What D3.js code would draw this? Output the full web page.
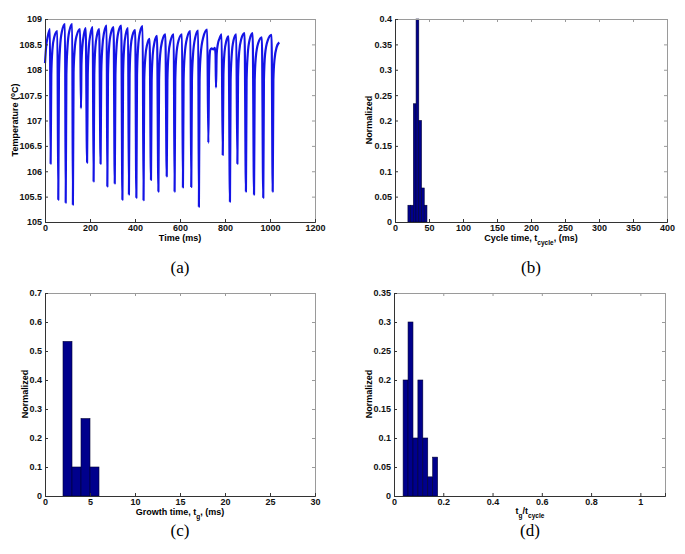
<!DOCTYPE html>
<html>
<head>
<meta charset="utf-8">
<script src="https://cdn.jsdelivr.net/npm/d3@7"></script>
<style>
  body { margin: 0; background: #fff; }
</style>
</head>
<body>
<div id="chart"></div>
<script>
// (a) temperature trace: troughs, knees and peaks of each cycle
var tempTime = [0, 5, 12, 22, 25, 28, 33, 41, 55, 59, 62, 67, 75, 89, 92, 95, 100, 108, 121,
  124, 127, 132, 140, 156, 160, 162, 167, 173, 181, 187, 190, 195, 202, 212,
  216, 219, 224, 231, 241, 247, 250, 255, 262, 274, 277, 280, 285, 293, 305,
  310, 313, 318, 326, 339, 344, 347, 352, 359, 369, 373, 376, 381, 389, 401,
  406, 409, 414, 422, 434, 438, 441, 446, 454, 465, 471, 474, 479, 487, 498,
  504, 507, 512, 521, 535, 541, 544, 549, 558, 572, 576, 579, 584, 594, 609,
  613, 616, 621, 631, 646, 650, 653, 658, 667, 681, 684, 687, 692, 703, 721,
  726, 729, 734, 740, 748, 755, 758, 760, 763, 768, 776, 785,
  790, 793, 798, 806, 816, 822, 825, 830, 838, 850, 855, 858, 863, 872, 887,
  893, 896, 901, 910, 923, 929, 932, 937, 948, 964, 970, 973, 978, 990, 1007,
  1012, 1015, 1020, 1030, 1041];
var tempC = [108.13, 108.45, 108.65, 108.8, 106.15, 107.9, 108.4, 108.64, 108.76,
  105.44, 107.9, 108.45, 108.75, 108.9, 105.38, 107.9, 108.45, 108.76, 108.9,
  105.34, 107.95, 108.4, 108.66, 108.8, 107.24, 108.1, 108.5, 108.7, 108.82,
  106.17, 107.9, 108.45, 108.7, 108.84, 105.8, 107.9, 108.45, 108.68, 108.8,
  106.15, 107.95, 108.45, 108.72, 108.87, 105.7, 107.9, 108.45, 108.72, 108.84,
  105.76, 107.9, 108.45, 108.74, 108.87, 105.44, 107.9, 108.45, 108.7, 108.82,
  105.54, 107.9, 108.45, 108.68, 108.78, 105.48, 107.9, 108.45, 108.74, 108.86,
  105.43, 107.8, 108.25, 108.5, 108.61, 105.83, 107.8, 108.3, 108.55, 108.67,
  105.6, 107.8, 108.3, 108.57, 108.7, 105.9, 107.8, 108.3, 108.57, 108.7,
  105.6, 107.8, 108.3, 108.58, 108.7, 105.68, 107.8, 108.3, 108.62, 108.76,
  105.69, 107.8, 108.3, 108.62, 108.77, 105.3, 107.8, 108.3, 108.63, 108.79,
  106.56, 107.9, 108.38, 108.42, 108.4, 108.43, 108.3, 107.65, 108.3, 108.5, 108.62, 108.7,
  106.32, 107.9, 108.35, 108.57, 108.66, 105.4, 107.8, 108.3, 108.58, 108.7,
  106.15, 107.85, 108.35, 108.6, 108.72, 105.6, 107.8, 108.3, 108.6, 108.72,
  105.54, 107.8, 108.25, 108.53, 108.64, 105.48, 107.8, 108.3, 108.58, 108.69,
  105.6, 107.8, 108.2, 108.45, 108.54];

// (b) cycle time histogram
var cycleEdges = [19, 23, 27, 31, 35, 39, 43, 47];
var cycleFreq = [0.033, 0.033, 0.233, 0.4, 0.2, 0.067, 0.033];

// (c) growth time histogram
var growthEdges = [2, 3, 4, 5, 6];
var growthFreq = [0.533, 0.1, 0.267, 0.1];

// (d) ratio histogram
var ratioEdges = [0.037, 0.057, 0.077, 0.097, 0.117, 0.137, 0.157, 0.177];
var ratioFreq = [0.2, 0.3, 0.1, 0.2, 0.1, 0.033, 0.067];

// tick values
var ticksA_x = [0, 200, 400, 600, 800, 1000, 1200];
var ticksA_y = [105, 105.5, 106, 106.5, 107, 107.5, 108, 108.5, 109];
var ticksB_x = [0, 50, 100, 150, 200, 250, 300, 350, 400];
var ticksB_y = [0, 0.05, 0.1, 0.15, 0.2, 0.25, 0.3, 0.35, 0.4];
var ticksC_x = [0, 5, 10, 15, 20, 25, 30];
var ticksC_y = [0, 0.1, 0.2, 0.3, 0.4, 0.5, 0.6, 0.7];
var ticksD_x = [0, 0.2, 0.4, 0.6, 0.8, 1];
var ticksD_y = [0, 0.05, 0.1, 0.15, 0.2, 0.25, 0.3, 0.35];

var SANS = "Liberation Sans, Arial, sans-serif";
var SERIF = "Liberation Serif, Times New Roman, serif";

var svg = d3.select("#chart").append("svg")
    .attr("width", 685).attr("height", 554)
    .style("font-family", SANS);

var fmt = function (d) { return String(+d.toFixed(3)); };

function makePanel(box, xDomain, yDomain, xTicks, yTicks) {
    var x = d3.scaleLinear().domain(xDomain).range([box.left, box.right]);
    var y = d3.scaleLinear().domain(yDomain).range([box.bottom, box.top]);
    var g = svg.append("g");

    var plot = g.append("g");

    // frame with inward ticks on all four sides, like matlab
    var top = g.append("g").attr("transform", "translate(0," + box.top + ")")
        .call(d3.axisTop(x).tickValues(xTicks).tickSize(-3).tickFormat(""));
    var right = g.append("g").attr("transform", "translate(" + box.right + ",0)")
        .call(d3.axisRight(y).tickValues(yTicks).tickSize(-3).tickFormat(""));
    [top, right].forEach(function (a) {
        a.selectAll("path, line").attr("stroke", "#9a9a9a");
    });

    var bottom = g.append("g").attr("transform", "translate(0," + box.bottom + ")")
        .call(d3.axisBottom(x).tickValues(xTicks).tickSize(-3).tickPadding(3).tickFormat(fmt));
    var left = g.append("g").attr("transform", "translate(" + box.left + ",0)")
        .call(d3.axisLeft(y).tickValues(yTicks).tickSize(-3).tickPadding(3).tickFormat(fmt));
    [bottom, left].forEach(function (a) {
        a.selectAll("path, line").attr("stroke", "#333");
        a.selectAll("text").attr("font-size", "9px").attr("font-weight", "bold")
            .attr("fill", "#111").attr("font-family", SANS);
    });

    return { x: x, y: y, g: g, plot: plot };
}

function yTitle(g, cx, cy, parts) {
    var t = g.append("text")
        .attr("transform", "translate(" + cx + "," + cy + ") rotate(-90)")
        .attr("text-anchor", "middle")
        .attr("font-size", "9px").attr("font-weight", "bold");
    parts.forEach(function (p) {
        var s = t.append("tspan").text(p.t);
        if (p.sup) s.attr("baseline-shift", "super").attr("font-size", "6.5px");
    });
}

function xTitle(g, cx, cy, parts) {
    var t = g.append("text")
        .attr("x", cx).attr("y", cy)
        .attr("text-anchor", "middle")
        .attr("font-size", "9px").attr("font-weight", "bold");
    parts.forEach(function (p) {
        var s = t.append("tspan").text(p.t);
        if (p.sub) s.attr("baseline-shift", "sub").attr("font-size", "6.5px");
    });
}

function panelLetter(cx, cy, label) {
    svg.append("text")
        .attr("x", cx).attr("y", cy)
        .attr("text-anchor", "middle")
        .style("font-family", SERIF)
        .attr("font-size", "17px")
        .text(label);
}

function drawBars(p, edges, freq) {
    p.plot.selectAll("rect.bar")
        .data(freq)
        .enter().append("rect")
        .attr("class", "bar")
        .attr("x", function (d, i) { return p.x(edges[i]); })
        .attr("width", function (d, i) { return p.x(edges[i + 1]) - p.x(edges[i]); })
        .attr("y", function (d) { return p.y(d); })
        .attr("height", function (d) { return p.y(0) - p.y(d); })
        .attr("fill", "#00008c")
        .attr("stroke", "#000033")
        .attr("stroke-width", 0.6);
}

// (a)
var pa = makePanel({ left: 45, right: 315, top: 19, bottom: 222 }, [0, 1200], [105, 109], ticksA_x, ticksA_y);
var line = d3.line()
    .x(function (d, i) { return pa.x(tempTime[i]); })
    .y(function (d) { return pa.y(d); })
    .curve(d3.curveMonotoneX);
pa.plot.append("path")
    .attr("d", line(tempC))
    .attr("fill", "none")
    .attr("stroke", "#1414e6")
    .attr("stroke-width", 2.2)
    .attr("stroke-linejoin", "round");
yTitle(pa.g, 18, 120, [{ t: "Temperature (" }, { t: "o", sup: true }, { t: "C)" }]);
xTitle(pa.g, 180, 241, [{ t: "Time (ms)" }]);
panelLetter(180, 273, "(a)");

// (b)
var pb = makePanel({ left: 395, right: 667, top: 19, bottom: 222 }, [0, 400], [0, 0.4], ticksB_x, ticksB_y);
drawBars(pb, cycleEdges, cycleFreq);
yTitle(pb.g, 372, 120, [{ t: "Normalized" }]);
xTitle(pb.g, 531, 241, [{ t: "Cycle time, t" }, { t: "cycle", sub: true }, { t: ", (ms)" }]);
panelLetter(531, 273, "(b)");

// (c)
var pc = makePanel({ left: 45, right: 315, top: 293, bottom: 496 }, [0, 30], [0, 0.7], ticksC_x, ticksC_y);
drawBars(pc, growthEdges, growthFreq);
yTitle(pc.g, 28, 394, [{ t: "Normalized" }]);
xTitle(pc.g, 180, 515, [{ t: "Growth time, t" }, { t: "g", sub: true }, { t: ", (ms)" }]);
panelLetter(180, 536, "(c)");

// (d)
var pd = makePanel({ left: 394, right: 665, top: 293, bottom: 496 }, [0, 1.1], [0, 0.35], ticksD_x, ticksD_y);
drawBars(pd, ratioEdges, ratioFreq);
yTitle(pd.g, 372, 394, [{ t: "Normalized" }]);
xTitle(pd.g, 530, 514, [{ t: "t" }, { t: "g", sub: true }, { t: "/t" }, { t: "cycle", sub: true }]);
panelLetter(530, 536, "(d)");
</script>
</body>
</html>
